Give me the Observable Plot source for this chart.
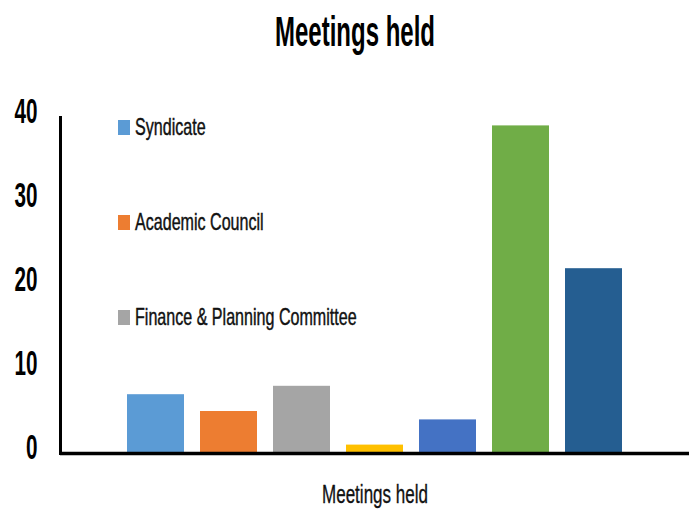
<!DOCTYPE html>
<html>
<head>
<meta charset="utf-8">
<script src="https://cdn.jsdelivr.net/npm/d3@7"></script>
<script src="https://cdn.jsdelivr.net/npm/@observablehq/plot@0.6"></script>
<style>
  html, body { margin: 0; padding: 0; background: #fff; }
  #wrap { position: relative; width: 689px; height: 515px; overflow: hidden; font-family: "Liberation Sans", Arial, sans-serif; }
  #title { position: absolute; left: 0; top: 10px; width: 689px; height: 43px; line-height: 43px; font-size: 43px; font-weight: bold; color: #000; white-space: nowrap; }
  #title span { position: absolute; left: 355px; top: 0; transform-origin: 0 0; }
  #chart { position: absolute; left: 0; top: 80px; }
  #legend { position: absolute; left: 0; top: 0; }
  .item { position: absolute; left: 118px; white-space: nowrap; height: 24px; }
  .sw { position: absolute; left: 0; width: 12px; height: 15px; }
  .lab { position: absolute; left: 17px; top: 0; font-size: 24px; line-height: 24px; color: #111; -webkit-text-stroke: 0.45px #111; transform-origin: 0 0; }
</style>
</head>
<body>
<div id="wrap">
  <div id="title"><span>Meetings held</span></div>
  <div id="chart"></div>
  <div id="legend"></div>
</div>
<script>
const categories = ["Syndicate", "Academic Council", "Finance & Planning Committee", "Committee 4", "Committee 5", "Committee 6", "Committee 7"];
const values = [7, 5, 8, 1, 4, 39, 22];
const colors = ["#5B9BD5", "#ED7D31", "#A5A5A5", "#FFC000", "#4472C4", "#70AD47", "#255E91"];
const legendItems = ["Syndicate", "Academic Council", "Finance & Planning Committee"];
const yTicks = [0, 10, 20, 30, 40];
const xTitle = "Meetings held";

const data = categories.map((c, i) => ({category: c, value: values[i]}));

const chart = Plot.plot({
  width: 689,
  height: 435,
  marginLeft: 60,
  marginRight: 0,
  marginTop: 37,
  marginBottom: 62,
  style: {fontFamily: '"Liberation Sans", Arial, sans-serif', background: "#fff"},
  x: {domain: categories, paddingInner: 0.224, paddingOuter: 0.89, axis: null},
  y: {domain: [0, 40], ticks: yTicks, label: null},
  color: {domain: categories, range: colors},
  marks: [
    Plot.barY(data, {x: "category", y: "value", fill: "category"}),
    Plot.axisY({ticks: yTicks, tickSize: 0, tickPadding: 23, fontSize: 35, fontWeight: "bold", fill: "#000", dy: -5.5, label: null, className: "yticks"}),
    Plot.frame({anchor: "left", stroke: "#000", strokeWidth: 3}),
    Plot.ruleY([0], {stroke: "#000", strokeWidth: 3.5}),
    Plot.text([xTitle], {frameAnchor: "bottom", lineAnchor: "middle", dy: 41, fontSize: 26, fill: "#111", stroke: "#111", strokeWidth: 0.35, className: "xtitle"})
  ]
});
document.getElementById("chart").appendChild(chart);

// Condense SVG texts to the narrow face of the reference
chart.querySelectorAll(".yticks text").forEach(t => {
  t.setAttribute("textLength", t.textContent.length * 11.5);
  t.setAttribute("lengthAdjust", "spacingAndGlyphs");
});
chart.querySelectorAll(".xtitle text").forEach(t => {
  t.setAttribute("textLength", 106);
  t.setAttribute("lengthAdjust", "spacingAndGlyphs");
});

// Title: condensed, centered at x = 355
const tspan = document.querySelector("#title span");
const tw = tspan.getBoundingClientRect().width;
const ts = 160 / tw;
tspan.style.transform = `translateX(${-80}px) scaleX(${ts})`;

// Legend (inside plot area, top-left)
const legend = document.getElementById("legend");
const baselines = [135, 230, 325];
legendItems.forEach((name, i) => {
  const div = document.createElement("div");
  div.className = "item";
  div.style.top = (baselines[i] - 20) + "px";
  const sw = document.createElement("span");
  sw.className = "sw";
  sw.style.top = "5px";
  sw.style.background = colors[categories.indexOf(name)];
  div.appendChild(sw);
  const lab = document.createElement("span");
  lab.className = "lab";
  lab.textContent = name;
  lab.style.transform = "scaleX(0.67)";
  div.appendChild(lab);
  legend.appendChild(div);
});
</script>
</body>
</html>
